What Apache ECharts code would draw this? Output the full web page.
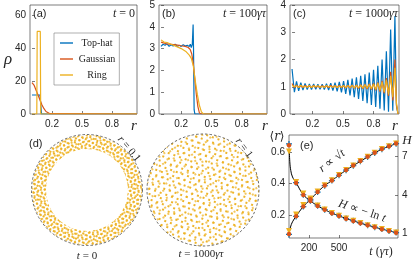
<!DOCTYPE html>
<html><head><meta charset="utf-8">
<script src="https://cdn.jsdelivr.net/npm/echarts@6/dist/echarts.min.js"></script>
<style>html,body{margin:0;padding:0;background:#fff}#c{width:415px;height:264px}</style>
</head><body><div id="c"></div>
<script>
// ---------- data ----------
// (a) t = 0
const aTopR   = [0, 0.02, 0.04, 0.06, 0.08, 0.095, 1.05];
const aTopV   = [11.5, 11.5, 11.5, 11.5, 11.5, 0, 0];
const aGaussR = [0, 0.02, 0.04, 0.06, 0.08, 0.10, 0.12, 0.14, 0.16, 0.18, 0.20, 1.05];
const aGaussV = [19, 17.5, 14.5, 11.5, 8.5, 5.5, 3.2, 1.5, 0.6, 0.2, 0, 0];
const aRingR  = [0, 0.048, 0.052, 0.083, 0.087, 1.05];
const aRingV  = [0, 0, 50, 50, 0, 0];
// (b) t = 100
const bTopR   = [0, 0.02, 0.04, 0.06, 0.08, 0.10, 0.12, 0.14, 0.16, 0.18, 0.20, 0.22, 0.24, 0.26, 0.28, 0.29, 0.30, 0.31, 0.318, 0.322, 0.328, 0.335, 1.05];
const bTopV   = [3.1, 3.2, 3.15, 3.22, 3.1, 3.18, 3.12, 3.2, 3.1, 3.15, 3.1, 3.18, 3.12, 3.15, 3.1, 3.2, 3.05, 3.2, 4.1, 3.0, 0.2, 0, 0];
const bGaussR = [0, 0.05, 0.10, 0.15, 0.20, 0.24, 0.27, 0.29, 0.305, 0.32, 0.335, 0.35, 0.365, 0.38, 0.40, 1.05];
const bGaussV = [3.3, 3.22, 3.2, 3.17, 3.13, 3.1, 3.05, 2.95, 2.75, 2.3, 1.6, 0.9, 0.35, 0.05, 0, 0];
const bRingR  = [0, 0.03, 0.06, 0.10, 0.15, 0.20, 0.25, 0.28, 0.30, 0.32, 0.34, 0.36, 0.38, 0.40, 0.42, 1.05];
const bRingV  = [3.4, 3.3, 3.28, 3.2, 3.1, 3.0, 2.85, 2.7, 2.55, 2.2, 1.5, 0.9, 0.4, 0.1, 0, 0];
// (c) t = 1000
const cR = [0, 0.023, 0.044, 0.065, 0.086, 0.107, 0.128, 0.149, 0.17, 0.191,
            0.212, 0.233, 0.254, 0.275, 0.296, 0.317, 0.338, 0.359, 0.38, 0.401,
            0.422, 0.443, 0.464, 0.485, 0.506, 0.527, 0.548, 0.569, 0.59, 0.611,
            0.632, 0.653, 0.674, 0.695, 0.716, 0.737, 0.758, 0.779, 0.8, 0.821,
            0.842, 0.863, 0.884, 0.905, 0.926, 0.947, 0.968, 0.989, 1.01, 1.025, 1.04];
const cTopV = [1.65, 0.80, 1.20, 0.85, 1.15, 0.88, 1.12, 0.90, 1.10, 0.90,
               1.10, 0.91, 1.09, 0.91, 1.09, 0.90, 1.11, 0.88, 1.13, 0.86,
               1.15, 0.83, 1.18, 0.79, 1.21, 0.74, 1.25, 0.68, 1.30, 0.62,
               1.35, 0.55, 1.40, 0.48, 1.46, 0.40, 1.52, 0.33, 1.62, 0.26,
               1.77, 0.19, 2.00, 0.13, 2.30, 0.08, 3.10, 0.12, 3.60, 0.30, 0];
const cGaussV = [1.12, 0.97, 1.06, 0.98, 1.04, 0.97, 1.05, 0.99, 1.03, 0.97,
                 1.05, 0.98, 1.03, 0.97, 1.04, 0.99, 1.03, 0.97, 1.05, 0.98,
                 1.04, 0.97, 1.05, 0.97, 1.04, 0.96, 1.05, 0.96, 1.06, 0.95,
                 1.06, 0.94, 1.07, 0.93, 1.08, 0.92, 1.10, 0.90, 1.12, 0.87,
                 1.16, 0.82, 1.22, 0.76, 1.32, 0.66, 1.55, 0.50, 2.00, 0.35, 0];
const cRingV = [1.05, 1.00, 1.04, 0.97, 1.06, 0.99, 1.02, 0.98, 1.05, 0.97,
                1.03, 1.00, 1.04, 0.98, 1.02, 0.97, 1.05, 0.99, 1.02, 0.98,
                1.04, 0.97, 1.03, 0.98, 1.05, 0.97, 1.04, 0.97, 1.05, 0.96,
                1.05, 0.96, 1.06, 0.95, 1.07, 0.95, 1.08, 0.93, 1.10, 0.90,
                1.13, 0.87, 1.18, 0.80, 1.25, 0.72, 1.40, 0.62, 1.70, 0.40, 0];
// (e) mean radius and entropy vs time
const tVals  = [0, 71, 143, 214, 286, 357, 429, 500, 571, 643, 714, 786, 857, 929, 1000, 1071];
const rTop   = [0.078, 0.192, 0.255, 0.300, 0.347, 0.388, 0.420, 0.454, 0.486, 0.515, 0.543, 0.570, 0.596, 0.620, 0.638, 0.655];
const rGauss = [0.080, 0.194, 0.256, 0.301, 0.348, 0.389, 0.421, 0.455, 0.487, 0.516, 0.544, 0.571, 0.597, 0.621, 0.639, 0.656];
const rRing  = [0.100, 0.205, 0.265, 0.306, 0.350, 0.390, 0.422, 0.455, 0.487, 0.516, 0.544, 0.571, 0.597, 0.621, 0.639, 0.656];
const HTop   = [8.0, 4.95, 4.0, 3.52, 3.13, 2.83, 2.56, 2.34, 2.13, 1.95, 1.77, 1.61, 1.45, 1.30, 1.16, 1.03];
const HGauss = [7.9, 4.93, 3.98, 3.50, 3.12, 2.82, 2.55, 2.33, 2.12, 1.94, 1.76, 1.60, 1.44, 1.29, 1.15, 1.02];
const HRing  = [7.4, 5.00, 4.10, 3.58, 3.16, 2.85, 2.57, 2.35, 2.14, 1.95, 1.77, 1.61, 1.45, 1.30, 1.16, 1.03];
const rFitT  = [0, 15, 35, 71, 143, 214, 286, 357, 429, 500, 571, 643, 714, 786, 857, 929, 1000, 1071];
const rFitV  = [0.082, 0.125, 0.158, 0.193, 0.255, 0.300, 0.347, 0.388, 0.420, 0.454, 0.486, 0.515, 0.543, 0.570, 0.596, 0.620, 0.638, 0.655];
const HFitT  = [3, 8, 18, 35, 71, 143, 214, 286, 357, 429, 500, 571, 643, 714, 786, 857, 929, 1000, 1071];
const HFitV  = [7.6, 6.6, 5.9, 5.4, 4.95, 4.0, 3.52, 3.13, 2.83, 2.56, 2.34, 2.13, 1.95, 1.77, 1.61, 1.45, 1.30, 1.16, 1.03];
// tick labels
const xTicksTop = [0.2, 0.5, 0.8];
const yTicksA = [0, 20, 40, 60];
const yTicksB = [0, 1, 2, 3, 4, 5];
const yTicksC = [0, 1, 2, 3, 4];
const xTicksE = [200, 500];
const yTicksEL = [0.2, 0.4, 0.6];
const yTicksER = [1, 4, 7];
const legendNames = ['Top-hat', 'Gaussian', 'Ring'];

// ---------- build ----------
const BLUE = '#0072BD', ORANGE = '#D95319', YELLOW = '#EDB120', INK = '#262626';
const SANS = 'Liberation Sans', SERIF = 'Liberation Serif';
const zip = (a, b) => a.map((v, i) => [v, b[i]]);

function xAx(gi, min, max, ticks) {
  return {type: 'value', gridIndex: gi, min, max,
    axisLine: {show: false},
    axisTick: {show: true, inside: true, length: 3, customValues: ticks, lineStyle: {color: INK, width: 0.6}},
    axisLabel: {customValues: ticks, fontSize: 10, color: INK, fontFamily: SANS, margin: 5},
    splitLine: {show: false}};
}
function yAx(gi, min, max, ticks, pos) {
  return {type: 'value', gridIndex: gi, min, max, position: pos || 'left',
    axisLine: {show: false},
    axisTick: {show: true, inside: true, length: 3, customValues: ticks, lineStyle: {color: INK, width: 0.6}},
    axisLabel: {customValues: ticks, fontSize: 10, color: INK, fontFamily: SANS, margin: 4},
    splitLine: {show: false}};
}
const gridStyle = {show: true, borderColor: INK, borderWidth: 0.6, backgroundColor: '#fff', containLabel: false};
function line(name, gi, xs, ys, color, z) {
  return {type: 'line', name, xAxisIndex: gi, yAxisIndex: gi, data: zip(xs, ys), symbol: 'none',
    lineStyle: {color, width: 1.2}, itemStyle: {color}, z: z || 2, silent: true};
}
const plusPath = 'path://M2,0H3V2H5V3H3V5H2V3H0V2H2Z';
function marks(name, ys, yIdx, color, symbol, size, rot, z) {
  return {type: 'scatter', name, xAxisIndex: 3, yAxisIndex: yIdx, data: zip(tVals, ys),
    symbol, symbolSize: size, symbolRotate: rot || 0, itemStyle: {color, opacity: 1}, z, silent: true};
}
function cloud(center, radius, dx, gap, dy, gapY, rot, alpha) {
  return {type: 'pie', center, radius, silent: true, label: {show: false}, labelLine: {show: false},
    startAngle: 90, z: 1,
    data: [{value: 1, itemStyle: {color: 'rgba(255,255,255,0)', borderWidth: 0,
      decal: {symbol: 'rect', symbolSize: 1, color: 'rgba(237,177,32,' + alpha + ')',
        dashArrayX: [[dx, gap], [0, gap / 2, dx, gap / 2]], dashArrayY: [dy, gapY], rotation: rot}}}]};
}
function txt(x, y, text, opt) {
  opt = opt || {};
  return {type: 'text', x, y, rotation: opt.rot || 0, z: 100, silent: true,
    style: {text, fill: opt.fill || INK, fontFamily: opt.family || SERIF, fontSize: opt.size || 12,
      fontStyle: opt.italic ? 'italic' : 'normal', align: opt.align || 'center', verticalAlign: 'middle',
      rich: {i: {fontStyle: 'italic', fontFamily: opt.family || SERIF, fontSize: opt.size || 12}}}};
}

const option = {
  animation: false,
  backgroundColor: '#fff',
  grid: [
    Object.assign({left: 30, top: 5, width: 107, height: 109}, gridStyle),
    Object.assign({left: 159, top: 5, width: 108, height: 109}, gridStyle),
    Object.assign({left: 290, top: 5, width: 109, height: 109}, gridStyle),
    Object.assign({left: 289, top: 135, width: 109, height: 103}, gridStyle)
  ],
  xAxis: [
    xAx(0, -0.02, 1.05, xTicksTop), xAx(1, -0.02, 1.05, xTicksTop), xAx(2, -0.02, 1.05, xTicksTop),
    xAx(3, 0, 1090, xTicksE)
  ],
  yAxis: [
    yAx(0, 0, 66, yTicksA), yAx(1, 0, 5, yTicksB), yAx(2, 0, 4, yTicksC),
    yAx(3, 0.055, 0.71, yTicksEL), yAx(3, 0.6, 8.7, yTicksER, 'right')
  ],
  legend: {
    data: legendNames.map(n => ({name: n, icon: 'rect'})),
    left: 54, top: 33, orient: 'vertical', itemWidth: 13, itemHeight: 1.4, itemGap: 6,
    padding: [5, 4, 5, 6], backgroundColor: '#fff', borderColor: '#7a7a7a', borderWidth: 0.6,
    selectedMode: false,
    formatter: n => '{c|' + n + '}',
    textStyle: {fontFamily: SERIF, fontSize: 10, color: INK,
      rich: {c: {width: 38, align: 'center', fontFamily: SERIF, fontSize: 10, color: INK}}}
  },
  series: [
    line('Top-hat', 0, aTopR, aTopV, BLUE, 2),
    line('Gaussian', 0, aGaussR, aGaussV, ORANGE, 3),
    line('Ring', 0, aRingR, aRingV, YELLOW, 4),
    line('Top-hat', 1, bTopR, bTopV, BLUE, 2),
    line('Gaussian', 1, bGaussR, bGaussV, ORANGE, 3),
    line('Ring', 1, bRingR, bRingV, YELLOW, 4),
    line('Top-hat', 2, cR, cTopV, BLUE, 2),
    line('Gaussian', 2, cR, cGaussV, ORANGE, 3),
    line('Ring', 2, cR, cRingV, YELLOW, 4),
    // (e)
    {type: 'line', name: 'rfit', xAxisIndex: 3, yAxisIndex: 3, data: zip(rFitT, rFitV), smooth: 0.4,
      symbol: 'none', lineStyle: {color: '#000', width: 1}, z: 2, silent: true},
    {type: 'line', name: 'Hfit', xAxisIndex: 3, yAxisIndex: 4, data: zip(HFitT, HFitV), smooth: 0.4,
      symbol: 'none', lineStyle: {color: '#000', width: 1}, z: 2, silent: true},
    marks('Top-hat r', rTop, 3, BLUE, plusPath, 6, 0, 3),
    marks('Top-hat H', HTop, 4, BLUE, plusPath, 6, 0, 3),
    marks('Ring r', rRing, 3, YELLOW, 'triangle', 6, 180, 4),
    marks('Ring H', HRing, 4, YELLOW, 'triangle', 6, 180, 4),
    marks('Gaussian r', rGauss, 3, ORANGE, 'circle', 4.5, 0, 5),
    marks('Gaussian H', HGauss, 4, ORANGE, 'circle', 4.5, 0, 5),
    // (d) particle clouds drawn as a dotted texture
    cloud([87, 190], [41, 55], 1.4, 1.5, 1.4, 1.3, 0.5, 0.95),
    cloud([87, 190], [41, 55], 1.3, 2.0, 1.3, 1.6, 1.25, 0.8),
    cloud([203, 190], [0, 56], 1.4, 3.4, 1.4, 2.9, 0.35, 0.95),
    cloud([203, 190], [0, 56], 1.2, 4.2, 1.2, 3.6, 1.1, 0.7)
  ],
  graphic: [
    {type: 'circle', shape: {cx: 87, cy: 190, r: 55.5}, silent: true, z: 50,
      style: {fill: 'none', stroke: '#444', lineWidth: 0.8, lineDash: [2.5, 2]}},
    {type: 'circle', shape: {cx: 203, cy: 190, r: 56}, silent: true, z: 50,
      style: {fill: 'none', stroke: '#444', lineWidth: 0.8, lineDash: [2.5, 2]}},
    txt(33, 14, '(a)', {family: SANS, size: 11, align: 'left'}),
    txt(162, 14, '(b)', {family: SANS, size: 11, align: 'left'}),
    txt(293, 14, '(c)', {family: SANS, size: 11, align: 'left'}),
    txt(29, 144, '(d)', {family: SANS, size: 11, align: 'left'}),
    txt(300, 146, '(e)', {family: SANS, size: 11, align: 'left'}),
    txt(135, 14, '{i|t} = 0', {size: 12, align: 'right'}),
    txt(266, 14, '{i|t} = 100{i|γτ}', {size: 12, align: 'right'}),
    txt(398, 14, '{i|t} = 1000{i|γτ}', {size: 12, align: 'right'}),
    txt(8, 60, 'ρ', {size: 17, italic: true}),
    txt(134, 126, 'r', {size: 15, italic: true}),
    txt(265, 126, 'r', {size: 15, italic: true}),
    txt(395, 126, 'r', {size: 15, italic: true}),
    txt(129, 149, '{i|r} = 0.1', {size: 11, rot: -0.87}),
    txt(244, 148, '{i|r} = 1', {size: 11, rot: -0.93}),
    txt(87, 256, '{i|t} = 0', {size: 11}),
    txt(201, 254, '{i|t} = 1000{i|γτ}', {size: 11}),
    txt(277, 137, '⟨{i|r}⟩', {size: 12, family: 'DejaVu Serif'}),
    txt(407, 141, 'H', {size: 13, italic: true}),
    txt(381, 252, '{i|t} ({i|γτ})', {size: 12}),
    txt(332, 161, '{i|r} ∝ √{i|t}', {size: 12, rot: 0.65}),
    txt(362, 211, '{i|H} ∝ − ln {i|t}', {size: 12, rot: -0.32})
  ]
};
const chart = echarts.init(document.getElementById('c'), null, {renderer: 'canvas', width: 415, height: 264});
chart.setOption(option);
</script></body></html>
